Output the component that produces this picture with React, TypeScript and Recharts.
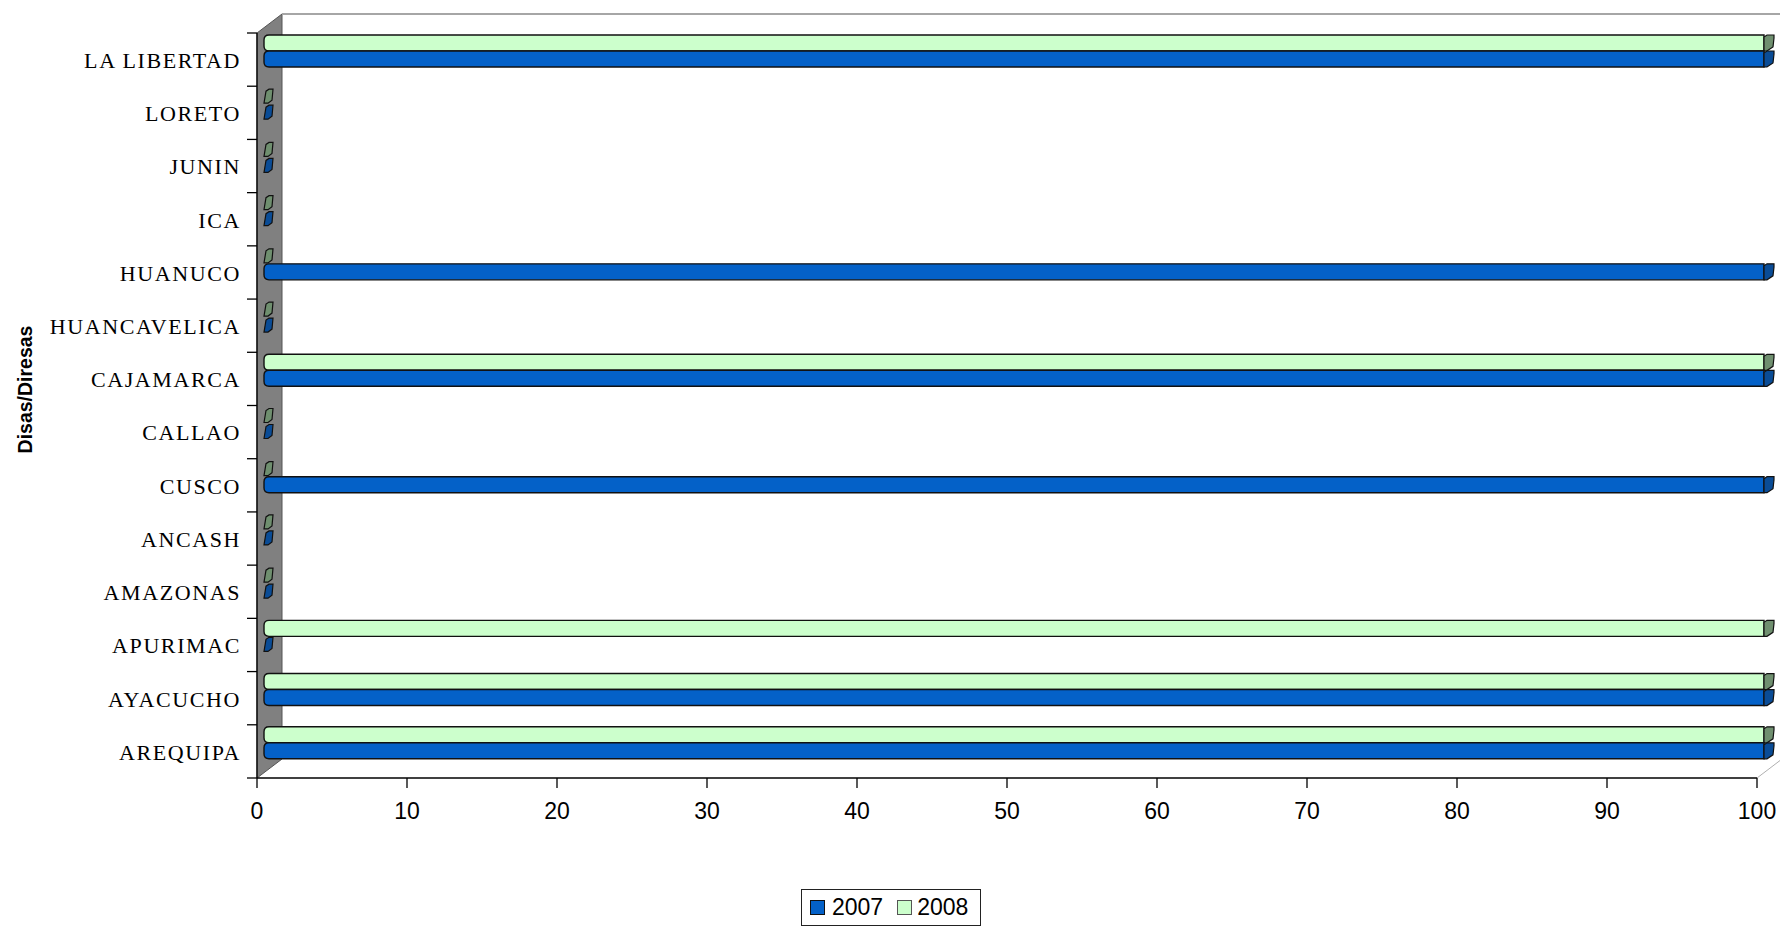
import { BarChart, Bar, XAxis, YAxis, Legend, ReferenceArea } from "recharts";

const categories = [
  "LA LIBERTAD",
  "LORETO",
  "JUNIN",
  "ICA",
  "HUANUCO",
  "HUANCAVELICA",
  "CAJAMARCA",
  "CALLAO",
  "CUSCO",
  "ANCASH",
  "AMAZONAS",
  "APURIMAC",
  "AYACUCHO",
  "AREQUIPA",
];
const values2007 = [100, 0, 0, 0, 100, 0, 100, 0, 100, 0, 0, 0, 100, 100];
const values2008 = [100, 0, 0, 0, 0, 0, 100, 0, 0, 0, 0, 100, 100, 100];
const xTicks = [0, 10, 20, 30, 40, 50, 60, 70, 80, 90, 100];

const data = categories.map((name, i) => ({
  name,
  y2007: values2007[i],
  y2008: values2008[i],
}));

const BLUE = "#0461C8";
const BLUE_CAP = "#0A4C96";
const GREEN = "#CCFFCC";
const GREEN_CAP = "#6F8F6F";

// depth of the fake 3d box
const DX = 25;
const DY = 19;
// bars sit in the middle of the depth
const BAR_DX = 7;
const BAR_DY = -9;

const SANS = "'Liberation Sans', Arial, sans-serif";
const SERIF = "'Liberation Serif', 'Times New Roman', serif";

function Bar3D(props: any) {
  const { x, y, width, height, cap, body } = props;
  const bx = x + BAR_DX;
  const by = y + BAR_DY;
  const h = height;
  if (!width || width < 1) {
    // zero value -> only the little end face
    const pts = [
      [bx, by + h - 1],
      [bx + 2, by + 3],
      [bx + 5, by + 1],
      [bx + 9, by + 1],
      [bx + 8, by + h - 4],
      [bx + 4, by + h - 1],
    ]
      .map((p) => p.join(","))
      .join(" ");
    return <polygon points={pts} fill={cap} stroke="#111" strokeWidth={1.2} />;
  }
  const ex = bx + width;
  const d = `M${ex},${by} H${bx + 5} Q${bx},${by} ${bx},${by + 5} V${by + h - 5} Q${bx},${by + h} ${bx + 5},${by + h} H${ex} Z`;
  const capPts = [
    [ex, by + h],
    [ex, by + 2],
    [ex + 3, by],
    [ex + 10, by],
    [ex + 10, by + 3],
    [ex + 9, by + h - 4],
    [ex + 3, by + h],
  ]
    .map((p) => p.join(","))
    .join(" ");
  return (
    <g>
      <path d={d} fill={body} stroke="#111" strokeWidth={1.4} />
      <polygon points={capPts} fill={cap} stroke="#111" strokeWidth={1.2} />
    </g>
  );
}

function Frame(props: any) {
  const { x, y, width, height } = props;
  const wall = [
    [x, y],
    [x + DX, y - DY],
    [x + DX, y + height - DY],
    [x, y + height],
  ]
    .map((p) => p.join(","))
    .join(" ");
  return (
    <g>
      <polygon points={wall} fill="#808080" stroke="#555" strokeWidth={1} />
      <line x1={x + DX} y1={y - DY} x2={x + width + DX} y2={y - DY} stroke="#A6A6A6" strokeWidth={2} />
      <line
        x1={x + width}
        y1={y + height}
        x2={x + width + DX}
        y2={y + height - DY}
        stroke="#B0B0B0"
        strokeWidth={1}
      />
    </g>
  );
}

function CategoryTick(props: any) {
  const { x, y, payload, index, visibleTicksCount } = props;
  const half = payload && payload.offset ? payload.offset : 26.6;
  const axisX = x + 6 + 10;
  return (
    <g>
      <line x1={axisX - 10} x2={axisX} y1={y - half} y2={y - half} stroke="#000" strokeWidth={1.3} />
      {index === visibleTicksCount - 1 && (
        <line x1={axisX - 10} x2={axisX} y1={y + half} y2={y + half} stroke="#000" strokeWidth={1.3} />
      )}
      <text
        x={x}
        y={y}
        dy="0.38em"
        textAnchor="end"
        fill="#000"
        style={{ fontFamily: SERIF, fontSize: 22, letterSpacing: 1.6 }}
      >
        {payload.value}
      </text>
    </g>
  );
}

function renderLegend() {
  const sq = (c: string, border: string) => (
    <span
      style={{
        display: "inline-block",
        width: 13,
        height: 13,
        background: c,
        border: `1px solid ${border}`,
      }}
    />
  );
  return (
    <div
      style={{
        boxSizing: "border-box",
        width: 180,
        height: 37,
        border: "1.5px solid #222",
        background: "#fff",
        display: "flex",
        alignItems: "center",
        paddingLeft: 8,
        fontFamily: SANS,
        fontSize: 23,
        color: "#000",
      }}
    >
      {sq(BLUE, "#111")}
      <span style={{ marginLeft: 7 }}>2007</span>
      <span style={{ marginLeft: 14 }}>{sq(GREEN, "#555")}</span>
      <span style={{ marginLeft: 5 }}>2008</span>
    </div>
  );
}

export default function App() {
  return (
    <div style={{ position: "absolute", left: 0, top: 0, width: 1780, height: 929, background: "#fff" }}>
      <BarChart
        width={1780}
        height={929}
        data={data}
        layout="vertical"
        barGap={0}
        margin={{ top: 33, right: 23, left: 0, bottom: 91 }}
      >
        <ReferenceArea x1={0} x2={100} ifOverflow="visible" shape={(p: any) => <Frame {...p} />} />
        <XAxis
          type="number"
          domain={[0, 100]}
          ticks={xTicks}
          interval={0}
          height={60}
          tickSize={10}
          tickMargin={15}
          axisLine={{ stroke: "#000", strokeWidth: 1.3 }}
          tickLine={{ stroke: "#000", strokeWidth: 1.3 }}
          tick={{ fill: "#000", fontSize: 23, fontFamily: SANS }}
        />
        <YAxis
          type="category"
          dataKey="name"
          width={257}
          interval={0}
          tickSize={10}
          tickMargin={6}
          tickLine={false}
          axisLine={{ stroke: "#000", strokeWidth: 1.3 }}
          tick={(p: any) => <CategoryTick {...p} />}
          label={{
            value: "Disas/Diresas",
            content: (lp: any) => {
              const vb = lp.viewBox || { x: 0, y: 33, height: 745 };
              const cx = vb.x + 25;
              const cy = vb.y + vb.height / 2 - 16;
              return (
                <text
                  x={cx}
                  y={cy}
                  transform={`rotate(-90 ${cx} ${cy})`}
                  textAnchor="middle"
                  dominantBaseline="central"
                  fill="#000"
                  style={{ fontFamily: SANS, fontSize: 19.5, fontWeight: "bold" }}
                >
                  Disas/Diresas
                </text>
              );
            },
          }}
        />
        <Legend
          layout="horizontal"
          verticalAlign="middle"
          align="center"
          wrapperStyle={{ left: 801, top: 889, width: 180, height: 37 }}
          content={renderLegend}
        />
        <Bar
          dataKey="y2008"
          name="2008"
          fill={GREEN}
          barSize={16}
          isAnimationActive={false}
          shape={(p: any) => <Bar3D {...p} body={GREEN} cap={GREEN_CAP} />}
        />
        <Bar
          dataKey="y2007"
          name="2007"
          fill={BLUE}
          barSize={16}
          isAnimationActive={false}
          shape={(p: any) => <Bar3D {...p} body={BLUE} cap={BLUE_CAP} />}
        />
      </BarChart>
    </div>
  );
}
